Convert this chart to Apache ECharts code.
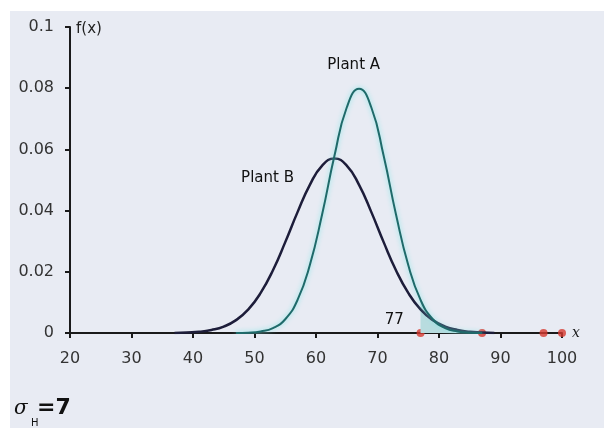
<!DOCTYPE html>
<html>
<head>
<meta charset="utf-8">
<script src="https://cdn.jsdelivr.net/npm/echarts@6/dist/echarts.min.js"></script>
<style>
body { margin:0; background:#fff; }
#main { position:absolute; left:10px; top:11px; width:594px; height:417px; }
</style>
</head>
<body>
<div id="main"></div>
<script>
// values, evenly spaced
var xB = [37, 39, 41, 43, 45, 47, 49, 51, 53, 55, 57, 59, 61, 63, 65, 67, 69, 71, 73, 75, 77, 79, 81, 83, 85, 87, 89];
var yB = [0, 0.0002, 0.0004, 0.001, 0.0021, 0.0042, 0.0077, 0.0131, 0.0205, 0.0297, 0.0395, 0.0484, 0.0547, 0.057, 0.0547, 0.0484, 0.0395, 0.0297, 0.0205, 0.0131, 0.0077, 0.0042, 0.0021, 0.001, 0.0004, 0.0002, 0];
var xA = [47, 49, 51, 53, 55, 57, 59, 61, 63, 65, 67, 69, 71, 73, 75, 77, 79, 81, 83, 85, 87];
var yA = [0, 0.0001, 0.0005, 0.0016, 0.0045, 0.0108, 0.0222, 0.0388, 0.0579, 0.0737, 0.0798, 0.0737, 0.0579, 0.0388, 0.0222, 0.0108, 0.0045, 0.0016, 0.0005, 0.0001, 0];
var xTail = [77, 79, 81, 83, 85, 87];
var yTail = [0.0108, 0.0045, 0.0016, 0.0005, 0.0001, 0];
var redX = [77, 87, 97, 100];
var noteText = ['Plant A', 'Plant B', '77'];
var noteX = [66.2, 52.2, 72.8];
var noteY = [0.0875, 0.0506, 0.0042];

function pairs(xs, ys) {
	var out = [];
	for (var i = 0; i < xs.length; i++) out.push([xs[i], ys[i]]);
	return out;
}

var font = 'DejaVu Sans';
var myChart = echarts.init(document.getElementById('main'));
var option = {
	backgroundColor : '#e8ebf3',
	animation : false,
	grid : { left : 60, right : 42, top : 16, bottom : 95 },
	xAxis : {
		type : 'value', min : 20, max : 100, interval : 10,
		name : 'x', nameLocation : 'end', nameGap : 10,
		nameTextStyle : { fontFamily : 'DejaVu Serif', fontStyle : 'italic', fontSize : 14, color : '#222' },
		axisLine : { lineStyle : { color : '#1a1a1a', width : 2 } },
		axisTick : { length : 5, lineStyle : { color : '#1a1a1a', width : 2 } },
		axisLabel : { fontFamily : font, fontSize : 16, color : '#333', margin : 18 },
		splitLine : { show : false }
	},
	yAxis : {
		type : 'value', min : 0, max : 0.1, interval : 0.02,
		name : 'f(x)', nameLocation : 'end', nameGap : -2,
		nameTextStyle : { fontFamily : font, fontSize : 15, color : '#222', align : 'left', verticalAlign : 'middle', padding : [0, 0, 0, 6] },
		axisLine : { lineStyle : { color : '#1a1a1a', width : 2 } },
		axisTick : { length : 5, lineStyle : { color : '#1a1a1a', width : 2 } },
		axisLabel : { fontFamily : font, fontSize : 16, color : '#333', margin : 16 },
		splitLine : { show : false }
	},
	series : [ {
		name : 'tail', type : 'line', smooth : true, showSymbol : false,
		lineStyle : { width : 0 },
		areaStyle : { color : '#b8dcdf', opacity : 1 },
		data : pairs(xTail, yTail)
	}, {
		name : 'Plant B', type : 'line', smooth : true, showSymbol : false,
		lineStyle : { color : '#1d1d3a', width : 2.5 },
		data : pairs(xB, yB)
	}, {
		name : 'Plant A', type : 'line', smooth : true, showSymbol : false,
		lineStyle : { color : '#1f6a6a', width : 2, shadowColor : '#7fe6e6', shadowBlur : 5 },
		data : pairs(xA, yA)
	}, {
		name : 'red', type : 'scatter', symbolSize : 8, clip : false,
		itemStyle : { color : '#d63a30' },
		data : redX.map(function(v) { return [v, 0]; })
	}, {
		name : 'notes', type : 'scatter', symbolSize : 1,
		itemStyle : { opacity : 0 },
		label : {
			show : true, position : [0, 0], align : 'center', verticalAlign : 'middle',
			fontFamily : font, fontSize : 15, color : '#111', opacity : 1,
			formatter : function(p) { return noteText[p.dataIndex]; }
		},
		data : pairs(noteX, noteY)
	} ],
	graphic : [ {
		type : 'text', left : 4, top : 388,
		style : { text : 'σ', fontFamily : 'DejaVu Serif', fontStyle : 'italic', fontSize : 20, fill : '#111' }
	}, {
		type : 'text', left : 21, top : 407,
		style : { text : 'H', fontFamily : font, fontSize : 10, fill : '#111' }
	}, {
		type : 'text', left : 27, top : 386,
		style : { text : '=7', fontFamily : font, fontWeight : 'bold', fontSize : 22, fill : '#111' }
	} ]
};
myChart.setOption(option);
</script>
</body>
</html>
